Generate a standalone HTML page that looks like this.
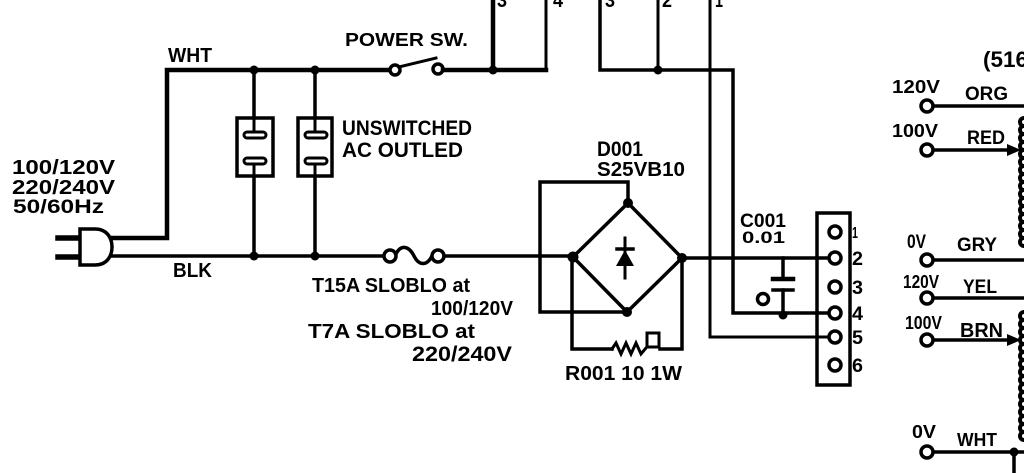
<!DOCTYPE html>
<html>
<head>
<meta charset="utf-8">
<style>
html,body{margin:0;padding:0;background:#fff;}
svg{display:block;}
text{font-family:"Liberation Sans",Arial,sans-serif;font-weight:bold;fill:#000;}
</style>
</head>
<body>
<svg width="1024" height="473" viewBox="0 0 1024 473" xmlns="http://www.w3.org/2000/svg">
<rect width="1024" height="473" fill="#fff"/>
<g stroke="#000" fill="none" stroke-linecap="square">
  <!-- WHT top wire -->
  <path d="M112,238 H167 V70 H390" stroke-width="4.5"/>
  <!-- switch -->
  <circle cx="395" cy="70" r="5" stroke-width="3.5" fill="#fff"/>
  <path d="M399,67 L436,58" stroke-width="3"/>
  <circle cx="438" cy="69" r="5" stroke-width="3.5" fill="#fff"/>
  <path d="M443,70 H546" stroke-width="4.5"/>
  <path d="M493,0 V70" stroke-width="4.5"/>
  <path d="M546,0 V70" stroke-width="3"/>
  <!-- right group top -->
  <path d="M600,0 V70 H733 V313 H829" stroke-width="3.5"/>
  <path d="M658,0 V70" stroke-width="3"/>
  <path d="M710,0 V337 H829" stroke-width="3"/>
  <!-- outlets -->
  <path d="M254,70 V118 M254,176 V256" stroke-width="3.5"/>
  <path d="M315,70 V118 M315,176 V256" stroke-width="3.5"/>
  <rect x="237" y="118" width="36" height="58" stroke-width="3.5" fill="#fff"/>
  <rect x="298" y="118" width="34" height="58" stroke-width="3.5" fill="#fff"/>
  <path d="M254,119 V133 M254,164 V175" stroke-width="3"/>
  <path d="M315,119 V133 M315,164 V175" stroke-width="3"/>
  <rect x="244" y="132" width="22" height="6" rx="3" stroke-width="3" fill="#fff"/>
  <rect x="244" y="158" width="22" height="6" rx="3" stroke-width="3" fill="#fff"/>
  <rect x="305" y="132" width="22" height="6" rx="3" stroke-width="3" fill="#fff"/>
  <rect x="305" y="158" width="22" height="6" rx="3" stroke-width="3" fill="#fff"/>
  <!-- plug -->
  <path d="M58,238 H80 M58,257 H80" stroke-width="5.5"/>
  <path d="M80,229 H95 C107,229 112,238 112,247 C112,256 107,265 95,265 H80 Z" stroke-width="3.5" fill="#fff"/>
  <!-- BLK wire -->
  <path d="M112,256 H384" stroke-width="3.5"/>
  <circle cx="390" cy="256" r="6" stroke-width="3.5" fill="#fff"/>
  <path d="M396,254 C401,244 409,246 414,256 C419,266 427,266 432,256" stroke-width="3.5"/>
  <circle cx="438" cy="256" r="6" stroke-width="3.5" fill="#fff"/>
  <path d="M444,256 H573" stroke-width="3.5"/>
  <!-- bridge -->
  <path d="M628,203 L573,257 L627,312 L682,258 Z" stroke-width="3.5"/>
  <path d="M628,203 V182 H540 V312 H627" stroke-width="3.5"/>
  <path d="M572,257 V349 H612 M660,349 H682 V258" stroke-width="3.5"/>
  <path d="M612,349 L616,343 L621,354 L626,343 L631,354 L636,343 L641,354 L646,348" stroke-width="3"/>
  <rect x="647" y="333" width="12" height="14" stroke-width="3"/>
  <!-- diode -->
  <path d="M625,238 V278" stroke-width="3"/>
  <path d="M617,249 H633" stroke-width="3.5"/>
  <!-- right output -->
  <path d="M682,258 H829" stroke-width="3.5"/>
  <!-- capacitor -->
  <path d="M783,258 V277" stroke-width="3.5"/>
  <path d="M773,279 H793" stroke-width="4.5"/>
  <path d="M773,290 H793" stroke-width="3.5"/>
  <path d="M783,290 V315" stroke-width="3.5"/>
  <circle cx="763" cy="299" r="5.5" stroke-width="3.5" fill="#fff"/>
  <!-- connector -->
  <rect x="817" y="213" width="33" height="172" stroke-width="3.5" fill="none"/>
  <circle cx="835" cy="232" r="6" stroke-width="3.5" fill="#fff"/>
  <circle cx="835" cy="258" r="6" stroke-width="3.5" fill="#fff"/>
  <circle cx="835" cy="287" r="6" stroke-width="3.5" fill="#fff"/>
  <circle cx="835" cy="313" r="6" stroke-width="3.5" fill="#fff"/>
  <circle cx="835" cy="337" r="6" stroke-width="3.5" fill="#fff"/>
  <circle cx="835" cy="365" r="6" stroke-width="3.5" fill="#fff"/>
  <!-- right side transformer -->
  <path d="M933,106 H1024" stroke-width="3.5"/>
  <path d="M933,150 H1012" stroke-width="3.5"/>
  <path d="M933,260 H1024" stroke-width="3.5"/>
  <path d="M933,298 H1024" stroke-width="3.5"/>
  <path d="M933,340 H1012" stroke-width="3.5"/>
  <path d="M933,452 H1024 M1014,452 V473" stroke-width="3.5"/>
  <circle cx="927" cy="106" r="6" stroke-width="3.5" fill="#fff"/>
  <circle cx="927" cy="150" r="6" stroke-width="3.5" fill="#fff"/>
  <circle cx="927" cy="260" r="6" stroke-width="3.5" fill="#fff"/>
  <circle cx="927" cy="298" r="6" stroke-width="3.5" fill="#fff"/>
  <circle cx="927" cy="340" r="6" stroke-width="3.5" fill="#fff"/>
  <circle cx="927" cy="452" r="6" stroke-width="3.5" fill="#fff"/>
  <!-- coils -->
  <path d="M1024,118 a4,4 0 0 0 0,8 a4,4 0 0 0 0,8 a4,4 0 0 0 0,8 a4,4 0 0 0 0,8 a4,4 0 0 0 0,8 a4,4 0 0 0 0,8 a4,4 0 0 0 0,8 a4,4 0 0 0 0,8 a4,4 0 0 0 0,8 a4,4 0 0 0 0,8 a4,4 0 0 0 0,8 a4,4 0 0 0 0,8 a4,4 0 0 0 0,8 a4,4 0 0 0 0,8 a4,4 0 0 0 0,8 a4,4 0 0 0 0,8" stroke-width="4"/>
  <path d="M1024,312 a4,4 0 0 0 0,8 a4,4 0 0 0 0,8 a4,4 0 0 0 0,8 a4,4 0 0 0 0,8 a4,4 0 0 0 0,8 a4,4 0 0 0 0,8 a4,4 0 0 0 0,8 a4,4 0 0 0 0,8 a4,4 0 0 0 0,8 a4,4 0 0 0 0,8 a4,4 0 0 0 0,8 a4,4 0 0 0 0,8 a4,4 0 0 0 0,8 a4,4 0 0 0 0,8 a4,4 0 0 0 0,8 a4,4 0 0 0 0,8" stroke-width="4"/>
</g>
<g fill="#000">
  <!-- junction dots -->
  <circle cx="254" cy="70" r="4.5"/>
  <circle cx="315" cy="70" r="4.5"/>
  <circle cx="493" cy="70" r="4.5"/>
  <circle cx="658" cy="70" r="4.5"/>
  <circle cx="254" cy="256" r="4.5"/>
  <circle cx="315" cy="256" r="4.5"/>
  <circle cx="628" cy="203" r="5"/>
  <circle cx="573" cy="257" r="5.5"/>
  <circle cx="682" cy="258" r="5"/>
  <circle cx="627" cy="312" r="5"/>
  <circle cx="783" cy="315" r="4.5"/>
  <circle cx="1014" cy="452" r="4.5"/>
  <path d="M616,266 L634,266 L625,250 Z"/>
  <path d="M1007,144 L1021,150 L1007,156 Z"/>
  <path d="M1007,334 L1021,340 L1007,346 Z"/>
</g>
<g>
  <text x="497" y="7" font-size="20" textLength="10" lengthAdjust="spacingAndGlyphs">3</text>
  <text x="553" y="7" font-size="20" textLength="10" lengthAdjust="spacingAndGlyphs">4</text>
  <text x="605" y="7" font-size="20" textLength="10" lengthAdjust="spacingAndGlyphs">3</text>
  <text x="662" y="7" font-size="20" textLength="10" lengthAdjust="spacingAndGlyphs">2</text>
  <text x="715" y="7" font-size="20" textLength="8" lengthAdjust="spacingAndGlyphs">1</text>

  <text x="168" y="62" font-size="20" textLength="44" lengthAdjust="spacingAndGlyphs">WHT</text>
  <text x="345" y="46" font-size="18" textLength="123" lengthAdjust="spacingAndGlyphs">POWER  SW.</text>
  <text x="342" y="135" font-size="21" textLength="130" lengthAdjust="spacingAndGlyphs">UNSWITCHED</text>
  <text x="342" y="157" font-size="21" textLength="121" lengthAdjust="spacingAndGlyphs">AC OUTLED</text>
  <text x="12" y="174" font-size="20" textLength="103" lengthAdjust="spacingAndGlyphs">100/120V</text>
  <text x="12" y="194" font-size="20" textLength="103" lengthAdjust="spacingAndGlyphs">220/240V</text>
  <text x="13" y="213" font-size="19" textLength="91" lengthAdjust="spacingAndGlyphs">50/60Hz</text>
  <text x="173" y="277" font-size="20" textLength="39" lengthAdjust="spacingAndGlyphs">BLK</text>
  <text x="312" y="292" font-size="20" textLength="158" lengthAdjust="spacingAndGlyphs">T15A SLOBLO at</text>
  <text x="431" y="315" font-size="20" textLength="82" lengthAdjust="spacingAndGlyphs">100/120V</text>
  <text x="308" y="338" font-size="20" textLength="167" lengthAdjust="spacingAndGlyphs">T7A  SLOBLO  at</text>
  <text x="412" y="361" font-size="21" textLength="100" lengthAdjust="spacingAndGlyphs">220/240V</text>
  <text x="597" y="156" font-size="21" textLength="46" lengthAdjust="spacingAndGlyphs">D001</text>
  <text x="597" y="176" font-size="20" textLength="88" lengthAdjust="spacingAndGlyphs">S25VB10</text>
  <text x="740" y="227" font-size="19" textLength="46" lengthAdjust="spacingAndGlyphs">C001</text>
  <text x="742" y="243" font-size="17" textLength="43" lengthAdjust="spacingAndGlyphs">0.01</text>
  <text x="565" y="380" font-size="20" textLength="117" lengthAdjust="spacingAndGlyphs">R001 10 1W</text>

  <text x="852" y="238" font-size="16" textLength="6" lengthAdjust="spacingAndGlyphs">1</text>
  <text x="852" y="265" font-size="19" textLength="11" lengthAdjust="spacingAndGlyphs">2</text>
  <text x="852" y="294" font-size="19" textLength="11" lengthAdjust="spacingAndGlyphs">3</text>
  <text x="852" y="320" font-size="19" textLength="11" lengthAdjust="spacingAndGlyphs">4</text>
  <text x="852" y="344" font-size="19" textLength="11" lengthAdjust="spacingAndGlyphs">5</text>
  <text x="852" y="372" font-size="19" textLength="11" lengthAdjust="spacingAndGlyphs">6</text>

  <text x="983" y="67" font-size="22" textLength="45" lengthAdjust="spacingAndGlyphs">(516</text>
  <text x="892" y="93" font-size="18" textLength="48" lengthAdjust="spacingAndGlyphs">120V</text>
  <text x="965" y="100" font-size="19" textLength="43" lengthAdjust="spacingAndGlyphs">ORG</text>
  <text x="892" y="137" font-size="18" textLength="46" lengthAdjust="spacingAndGlyphs">100V</text>
  <text x="967" y="144" font-size="19" textLength="38" lengthAdjust="spacingAndGlyphs">RED</text>
  <text x="907" y="248" font-size="19" textLength="19" lengthAdjust="spacingAndGlyphs">0V</text>
  <text x="957" y="251" font-size="19" textLength="40" lengthAdjust="spacingAndGlyphs">GRY</text>
  <text x="903" y="288" font-size="18" textLength="36" lengthAdjust="spacingAndGlyphs">120V</text>
  <text x="963" y="293" font-size="19" textLength="34" lengthAdjust="spacingAndGlyphs">YEL</text>
  <text x="905" y="329" font-size="18" textLength="37" lengthAdjust="spacingAndGlyphs">100V</text>
  <text x="960" y="337" font-size="20" textLength="43" lengthAdjust="spacingAndGlyphs">BRN</text>
  <text x="912" y="438" font-size="18" textLength="24" lengthAdjust="spacingAndGlyphs">0V</text>
  <text x="957" y="446" font-size="18" textLength="40" lengthAdjust="spacingAndGlyphs">WHT</text>
</g>
</svg>
</body>
</html>
